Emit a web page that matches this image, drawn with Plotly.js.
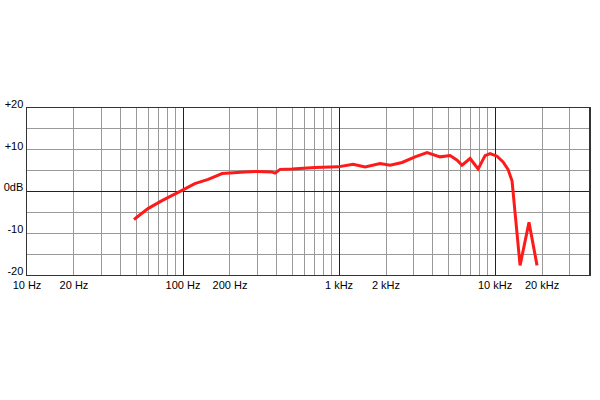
<!DOCTYPE html>
<html>
<head>
<meta charset="utf-8">
<script src="https://cdn.plot.ly/plotly-3.0.1.min.js"></script>
<style>html,body{margin:0;padding:0;background:#fff;}#chart{width:600px;height:400px;}</style>
</head>
<body>
<div id="chart"></div>
<script>
// Frequency response data (Hz, dB)
const freqHz = [48.5, 59.6, 73.3, 88.9, 100, 119, 145, 178, 215, 249, 300, 370, 389, 419, 500, 702, 986, 1230, 1469, 1833, 2124, 2535, 3070, 3664, 4440, 5150, 5710, 6140, 6920, 7790, 8630, 9290, 10300, 11250, 12110, 12850, 14460, 16500, 18580];
const levelDb = [-6.7, -4.1, -2.2, -0.7, 0.4, 1.9, 2.9, 4.3, 4.55, 4.7, 4.8, 4.7, 4.4, 5.3, 5.4, 5.75, 5.9, 6.5, 5.9, 6.7, 6.3, 6.95, 8.3, 9.3, 8.3, 8.6, 7.5, 6.3, 7.9, 5.4, 8.6, 9.1, 8.45, 7.1, 5.3, 2.5, -17.7, -7.4, -17.7];

// Axis grid & tick labels
const xGridVals = [10,20,30,40,50,60,70,80,90,100,200,300,400,500,600,700,800,900,1000,2000,3000,4000,5000,6000,7000,8000,9000,10000,20000,30000,40000];
const xLabelMap = {10:'10 Hz', 20:'20 Hz', 100:'100 Hz', 200:'200 Hz', 1000:'1 kHz', 2000:'2 kHz', 10000:'10 kHz', 20000:'20 kHz'};
const xDecades = [10, 100, 1000, 10000];
const yGridVals = [-20,-15,-10,-5,0,5,10,15,20];
const yTickText = ['-20','','-10','','0dB','','+10','','+20'];

const xTickText = xGridVals.map(v => xLabelMap[v] || '');

const traces = [
  {x: freqHz, y: levelDb, type: 'scatter', mode: 'lines', xaxis: 'x2', yaxis: 'y',
   line: {color: 'rgba(0,0,0,0)', width: 0}, hoverinfo: 'skip', showlegend: false},
  {x: freqHz, y: levelDb, type: 'scatter', mode: 'lines', xaxis: 'x', yaxis: 'y',
   line: {color: '#ff1a1a', width: 3}, hoverinfo: 'skip', showlegend: false}
];

const layout = {
  width: 600, height: 400,
  margin: {l: 27, r: 11, t: 108, b: 125},
  paper_bgcolor: '#fff', plot_bgcolor: '#fff',
  font: {family: 'Liberation Sans, Arial, sans-serif', size: 11, color: '#000'},
  showlegend: false,
  xaxis: {
    type: 'log', range: [1, Math.log10(40000)],
    tickmode: 'array', tickvals: xGridVals, ticktext: xTickText,
    showgrid: true, gridcolor: '#9a9a9a', gridwidth: 1,
    showline: true, mirror: true, linecolor: '#333', linewidth: 1,
    ticks: '', fixedrange: true, tickfont: {size: 11, color: '#000'}
  },
  xaxis2: {
    type: 'log', range: [1, Math.log10(40000)], overlaying: 'x', anchor: 'y',
    tickmode: 'array', tickvals: xDecades, showticklabels: false,
    showgrid: true, gridcolor: '#222', gridwidth: 1, ticks: '', showline: false
  },
  yaxis: {
    range: [-20, 20], tickmode: 'array', tickvals: yGridVals, ticktext: yTickText,
    showgrid: true, gridcolor: '#9a9a9a', gridwidth: 1,
    zeroline: true, zerolinecolor: '#222', zerolinewidth: 1,
    showline: true, mirror: true, linecolor: '#333', linewidth: 1.5,
    ticks: '', ticklabelshift: -4, ticklabelstandoff: 0, tickfont: {size: 11, color: '#000'}
  }
};

Plotly.newPlot('chart', traces, layout, {displayModeBar: false, staticPlot: true});
</script>
</body>
</html>
